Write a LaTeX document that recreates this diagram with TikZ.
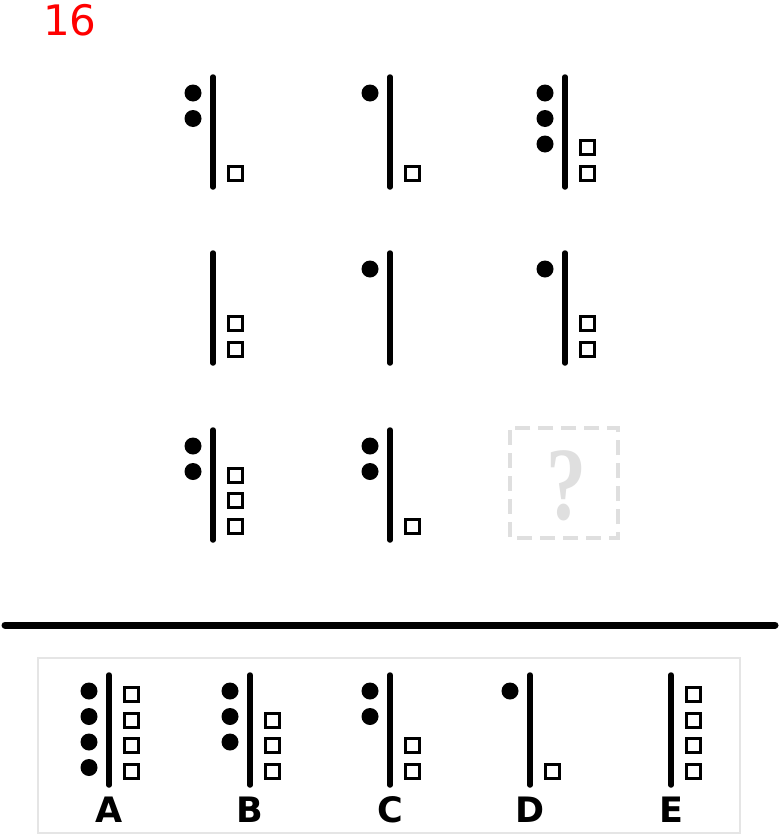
\documentclass[tikz,border=0pt]{standalone}
\usepackage{fontspec}
\newfontfamily\dejavu{DejaVu Sans}
\newfontfamily\libserif{Liberation Serif}
\newcommand\cellglyph[4]{%
  \draw[barline] (#1,#2) -- (#1,#2+110);
  \ifnum#3>0 \foreach \i in {1,...,#3} {\fill (#1-20,#2+16+25.5*\i-25.5) circle (8.5pt);}\fi
  \ifnum#4>0 \foreach \i in {1,...,#4} {\draw[sqbox] (#1+22-7,#2+96-25.5*\i+25.5-7) rectangle ++(14,14);}\fi
}
\begin{document}
\begin{tikzpicture}[x=1pt,y=-1pt,
  barline/.style={line width=5.5pt,line cap=round},
  sqbox/.style={line width=3pt},
  lbl/.style={font=\dejavu\bfseries\fontsize{35}{35}\selectfont,inner sep=0pt,anchor=base}]
\useasboundingbox (0,0) rectangle (780,838);
\fill[white] (0,0) rectangle (780,838);
\node[red,inner sep=0pt,anchor=base west,font=\dejavu\fontsize{42}{42}\selectfont] (title) at (43,35) {16};
% grid
\cellglyph{213}{77}{2}{1}
\cellglyph{390}{77}{1}{1}
\cellglyph{565}{77}{3}{2}
\cellglyph{213}{253}{0}{2}
\cellglyph{390}{253}{1}{0}
\cellglyph{565}{253}{1}{2}
\cellglyph{213}{430}{2}{3}
\cellglyph{390}{430}{2}{1}
\draw[gray!25,line width=3.5pt,dash pattern=on 15pt off 8pt,dash phase=-2pt] (510,428) rectangle (618,538);
\node[gray!25,inner sep=0pt,yscale=1.3,font=\libserif\bfseries\fontsize{80}{80}\selectfont] (q) at (566,486) {?};
% separator
\draw[line width=7pt,line cap=round] (5,625) -- (775,625);
% answers
\draw[gray!20,line width=1.5pt] (38,658) rectangle (740,833);
\cellglyph{109}{675}{4}{4}
\cellglyph{250}{675}{3}{3}
\cellglyph{390}{675}{2}{2}
\cellglyph{530}{675}{1}{1}
\cellglyph{671}{675}{0}{4}
\node[lbl] (la) at (109,822) {A};
\node[lbl] (lb) at (250,822) {B};
\node[lbl] (lc) at (390,822) {C};
\node[lbl] (ld) at (530,822) {D};
\node[lbl] (le) at (671,822) {E};
\end{tikzpicture}
\end{document}
